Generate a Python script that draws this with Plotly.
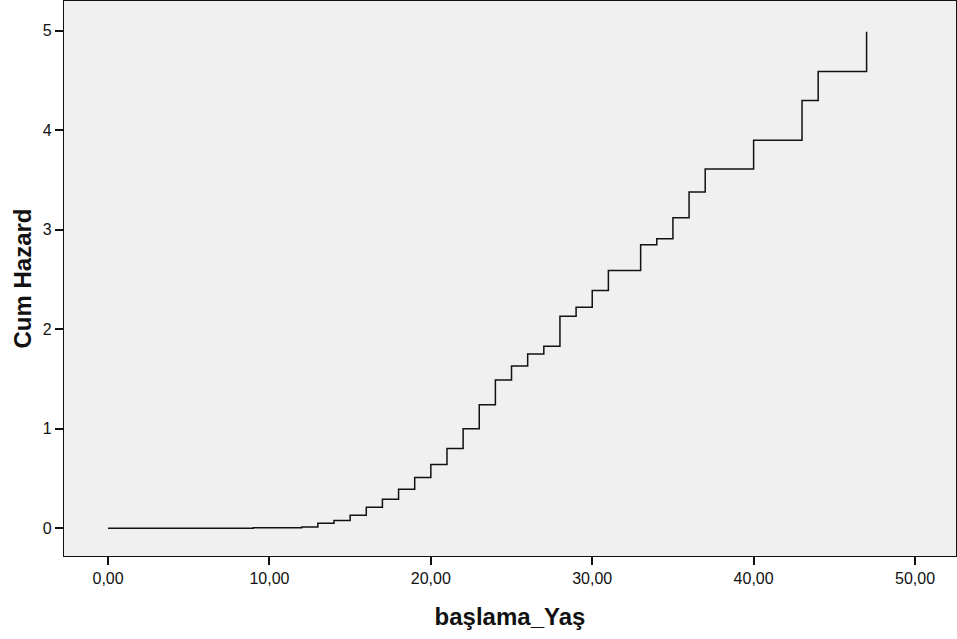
import plotly.graph_objects as go

# Event ages (x) and cumulative hazard (y), step function
ages = [0, 9, 12, 13, 14, 15, 16, 17, 18, 19, 20, 21, 22, 23, 24, 25, 26, 27, 28,
        29, 30, 31, 33, 34, 35, 36, 37, 40, 43, 44, 47]
cum_hazard = [0.0, 0.004, 0.012, 0.05, 0.077, 0.13, 0.21, 0.29, 0.39, 0.51, 0.64,
              0.80, 1.00, 1.24, 1.49, 1.63, 1.75, 1.83, 2.13, 2.22, 2.39, 2.59,
              2.85, 2.91, 3.12, 3.38, 3.61, 3.90, 4.30, 4.59, 4.99]

x_tick_vals = [0, 10, 20, 30, 40, 50]
x_tick_text = ["0,00", "10,00", "20,00", "30,00", "40,00", "50,00"]
y_tick_vals = [0, 1, 2, 3, 4, 5]

fig = go.Figure()
fig.add_trace(go.Scatter(
    x=ages, y=cum_hazard, mode="lines",
    line=dict(shape="hv", color="#111111", width=1.5),
    showlegend=False, hoverinfo="skip",
))

font_family = "Liberation Sans, Arial, sans-serif"
fig.update_layout(
    width=957, height=639,
    margin=dict(l=64, r=1, t=1, b=83),
    paper_bgcolor="white",
    plot_bgcolor="#F0F0F0",
    font=dict(family=font_family, size=16, color="#111111"),
    xaxis=dict(
        range=[-2.73, 52.54], tickmode="array", tickvals=x_tick_vals, ticktext=x_tick_text,
        ticks="outside", ticklen=8, tickwidth=1.5, tickcolor="#111111",
        showline=True, linecolor="#111111", linewidth=1.2, mirror=True,
        showgrid=False, zeroline=False,
        title=dict(text="<b>başlama_Yaş</b>", font=dict(size=24, family=font_family, color="#111111"), standoff=21),
        tickfont=dict(size=16),
    ),
    yaxis=dict(
        range=[-0.28, 5.30], tickmode="array", tickvals=y_tick_vals,
        ticks="outside", ticklen=8, tickwidth=1.5, tickcolor="#111111",
        showline=True, linecolor="#111111", linewidth=1.2, mirror=True,
        showgrid=False, zeroline=False,
        title=dict(text="<b>Cum Hazard</b>", font=dict(size=24, family=font_family, color="#111111"), standoff=4),
        tickfont=dict(size=16),
    ),
)

fig.write_html("out.html", config={"displayModeBar": False},
               post_script="document.body.style.margin='0';")
